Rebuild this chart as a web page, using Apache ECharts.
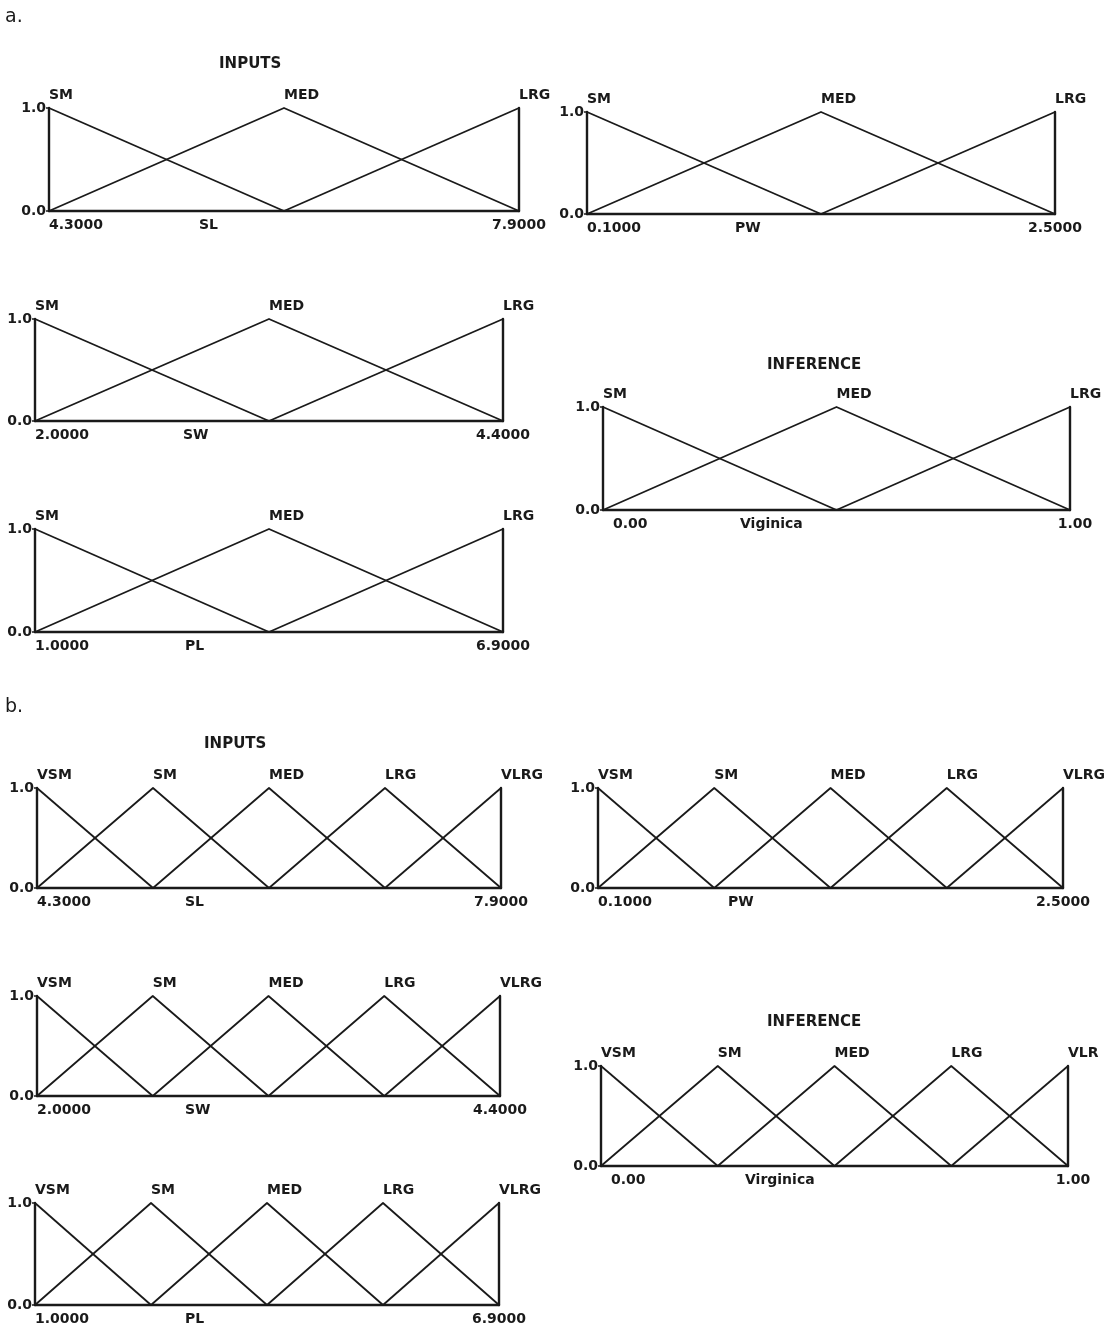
<!DOCTYPE html>
<html>
<head>
<meta charset="utf-8">
<style>
  html, body { margin: 0; padding: 0; background: #fff; }
  #main { width: 1110px; height: 1332px; }
</style>
<script src="https://cdn.jsdelivr.net/npm/echarts@6/dist/echarts.min.js"></script>
</head>
<body>
<div id="main"></div>
<script>
// membership set names
const setsThree = ['SM', 'MED', 'LRG']
const setsFive = ['VSM', 'SM', 'MED', 'LRG', 'VLRG']
const setsFiveInf = ['VSM', 'SM', 'MED', 'LRG', 'VLR']

// peak positions of the triangular sets (a = 3 sets, b = 5 sets)
const slPeaksA = [4.3, 6.1, 7.9]
const pwPeaksA = [0.1, 1.3, 2.5]
const swPeaksA = [2.0, 3.2, 4.4]
const plPeaksA = [1.0, 3.95, 6.9]
const infPeaksA = [0, 0.5, 1]

const slPeaksB = [4.3, 5.2, 6.1, 7.0, 7.9]
const pwPeaksB = [0.1, 0.7, 1.3, 1.9, 2.5]
const swPeaksB = [2.0, 2.6, 3.2, 3.8, 4.4]
const plPeaksB = [1.0, 2.475, 3.95, 5.425, 6.9]
const infPeaksB = [0, 0.25, 0.5, 0.75, 1]

// y tick labels
const yTicks = [0, 1]

const ink = '#1a1a1a'
const font = '"DejaVu Sans", sans-serif'

// panel layout: [left, top, width, height], name offset fraction, min label pad
const panels = [
  { peaks: slPeaksA, sets: setsThree, name: 'SL', dec: 4, box: [49, 108, 470, 103], nameAt: 0.32, pad: 0 },
  { peaks: pwPeaksA, sets: setsThree, name: 'PW', dec: 4, box: [587, 112, 468, 102], nameAt: 0.316, pad: 0 },
  { peaks: swPeaksA, sets: setsThree, name: 'SW', dec: 4, box: [35, 319, 468, 102], nameAt: 0.316, pad: 0 },
  { peaks: plPeaksA, sets: setsThree, name: 'PL', dec: 4, box: [35, 529, 468, 103], nameAt: 0.32, pad: 0 },
  { peaks: infPeaksA, sets: setsThree, name: 'Viginica', dec: 2, box: [603, 407, 467, 103], nameAt: 0.293, pad: 10 },
  { peaks: slPeaksB, sets: setsFive, name: 'SL', dec: 4, box: [37, 788, 464, 100], nameAt: 0.319, pad: 0 },
  { peaks: pwPeaksB, sets: setsFive, name: 'PW', dec: 4, box: [598, 788, 465, 100], nameAt: 0.28, pad: 0 },
  { peaks: swPeaksB, sets: setsFive, name: 'SW', dec: 4, box: [37, 996, 463, 100], nameAt: 0.32, pad: 0 },
  { peaks: infPeaksB, sets: setsFiveInf, name: 'Virginica', dec: 2, box: [601, 1066, 467, 100], nameAt: 0.308, pad: 10 },
  { peaks: plPeaksB, sets: setsFive, name: 'PL', dec: 4, box: [35, 1203, 464, 102], nameAt: 0.323, pad: 0 }
]

const headings = [
  { text: 'a.', x: 5, y: 8, size: 19, weight: 'normal' },
  { text: 'b.', x: 5, y: 698, size: 19, weight: 'normal' },
  { text: 'INPUTS', x: 219, y: 57, size: 15, weight: 'bold' },
  { text: 'INFERENCE', x: 767, y: 358, size: 15, weight: 'bold' },
  { text: 'INPUTS', x: 204, y: 737, size: 15, weight: 'bold' },
  { text: 'INFERENCE', x: 767, y: 1015, size: 15, weight: 'bold' }
]

const grid = []
const xAxis = []
const yAxis = []
const series = []
const graphic = []

panels.forEach((p, gi) => {
  const [left, top, width, height] = p.box
  const lo = p.peaks[0]
  const hi = p.peaks[p.peaks.length - 1]
  grid.push({ left, top, width, height, containLabel: false })
  xAxis.push({
    type: 'value', gridIndex: gi, min: lo, max: hi,
    splitLine: { show: false },
    axisTick: { show: false },
    axisLine: { lineStyle: { color: ink, width: 2.4 } },
    axisLabel: {
      customValues: [lo, hi],
      alignMinLabel: 'left',
      alignMaxLabel: 'center',
      margin: 7,
      padding: [0, 0, 0, p.pad],
      color: ink, fontFamily: font, fontWeight: 'bold', fontSize: 14,
      formatter: v => v.toFixed(p.dec)
    }
  })
  yAxis.push({
    type: 'value', gridIndex: gi, min: 0, max: 1, interval: 1,
    splitLine: { show: false },
    axisLine: { show: true, lineStyle: { color: ink, width: 2.4 } },
    axisTick: { show: true, length: 3, lineStyle: { color: ink, width: 1.5 } },
    axisLabel: {
      customValues: yTicks,
      margin: 3, color: ink, fontFamily: font, fontWeight: 'bold', fontSize: 14,
      formatter: v => v.toFixed(1)
    }
  })
  // right frame line
  yAxis.push({
    type: 'value', gridIndex: gi, min: 0, max: 1, position: 'right',
    splitLine: { show: false },
    axisLine: { show: true, lineStyle: { color: ink, width: 2.4 } },
    axisTick: { show: false },
    axisLabel: { show: false }
  })
  const yIdx = yAxis.length - 2
  p.sets.forEach((setName, i) => {
    const data = []
    if (i > 0) data.push([p.peaks[i - 1], 0])
    data.push({
      value: [p.peaks[i], 1],
      label: {
        show: true, position: 'top', align: 'left', distance: 5,
        formatter: setName, color: ink, fontFamily: font, fontWeight: 'bold', fontSize: 14
      }
    })
    if (i < p.sets.length - 1) data.push([p.peaks[i + 1], 0])
    series.push({
      type: 'line', xAxisIndex: gi, yAxisIndex: yIdx,
      data, symbol: 'circle', symbolSize: 1, showSymbol: true,
      itemStyle: { color: ink },
      lineStyle: { color: ink, width: 1.8 },
      label: { show: false },
      clip: false, silent: true, animation: false
    })
  })
  graphic.push({
    type: 'text', left: Math.round(left + p.nameAt * width), top: top + height + 7,
    style: { text: p.name, fill: ink, font: 'bold 14px ' + font }
  })
})

headings.forEach(h => {
  graphic.push({
    type: 'text', left: h.x, top: h.y,
    style: { text: h.text, fill: ink, font: h.weight + ' ' + h.size + 'px ' + font }
  })
})

const chart = echarts.init(document.getElementById('main'))
chart.setOption({
  backgroundColor: '#fff',
  animation: false,
  grid, xAxis, yAxis, series, graphic
})
</script>
</body>
</html>
